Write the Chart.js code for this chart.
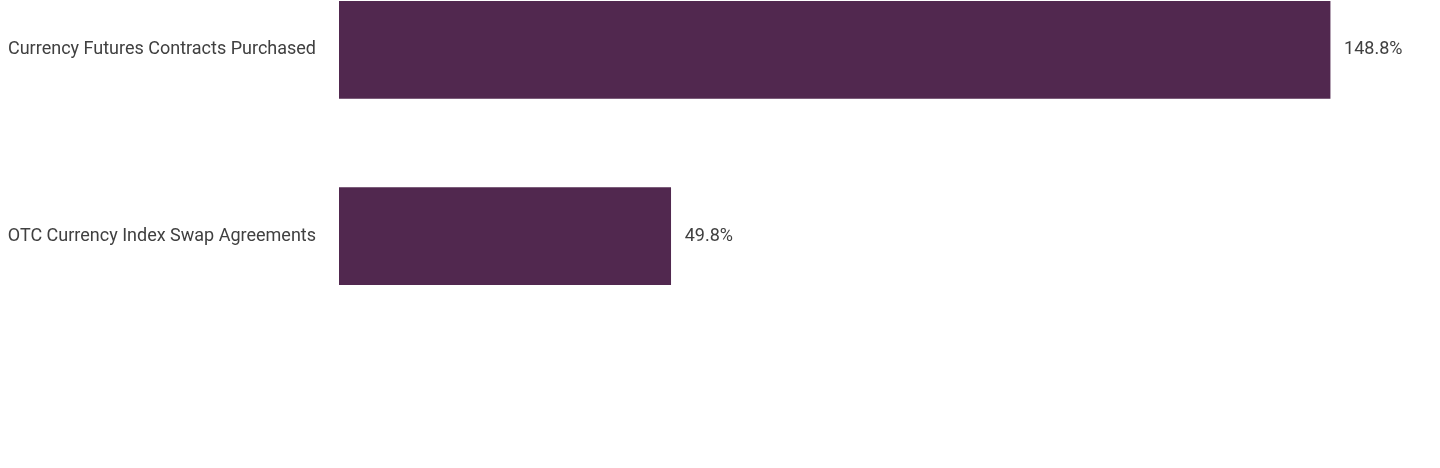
<!DOCTYPE html>
<html><head><meta charset="utf-8">
<script src="https://cdn.jsdelivr.net/npm/chart.js@4/dist/chart.umd.min.js"></script>
<style>html,body{margin:0;padding:0;background:#fff;overflow:hidden}#wrap{position:relative;width:1440px;height:468px;overflow:hidden}#c{position:absolute;left:0;top:-77px}</style>
</head><body><div id="wrap"><canvas id="c" width="1440" height="440"></canvas></div>
<script>
const categories = ["Currency Futures Contracts Purchased", "OTC Currency Index Swap Agreements"];
const values = [148.8, 49.8];
const valueLabels = ["148.8%", "49.8%"];

const FONT = "Roboto, 'Liberation Sans', sans-serif";
const FSIZE = 18;
const TEXT = "#404040";
const BAR = "#51284F";

const labelPlugin = {
  id: 'vlabels',
  afterDatasetsDraw(chart) {
    const ctx = chart.ctx;
    const meta = chart.getDatasetMeta(0);
    ctx.save();
    ctx.font = FSIZE + "px " + FONT;
    ctx.fillStyle = TEXT;
    ctx.textAlign = 'left';
    ctx.textBaseline = 'middle';
    meta.data.forEach((el, i) => {
      ctx.fillText(valueLabels[i], el.x + 14, el.y);
    });
    ctx.restore();
  }
};

new Chart(document.getElementById('c'), {
  type: 'bar',
  data: {
    labels: categories,
    datasets: [{
      data: values,
      backgroundColor: BAR,
      borderWidth: 0,
      barThickness: 97
    }]
  },
  options: {
    indexAxis: 'y',
    responsive: false,
    animation: false,
    layout: {padding: 0},
    plugins: {legend: {display: false}, tooltip: {enabled: false}},
    scales: {
      x: {type: 'linear', min: 0, max: 165.3, display: false, grid: {display: false}},
      y: {
        grid: {display: false, drawTicks: false},
        border: {display: false},
        afterFit(scale) { scale.width = 339; },
        ticks: {
          padding: 23,
          color: TEXT,
          font: {family: FONT, size: FSIZE}
        }
      }
    }
  },
  plugins: [labelPlugin]
});
</script></body></html>
